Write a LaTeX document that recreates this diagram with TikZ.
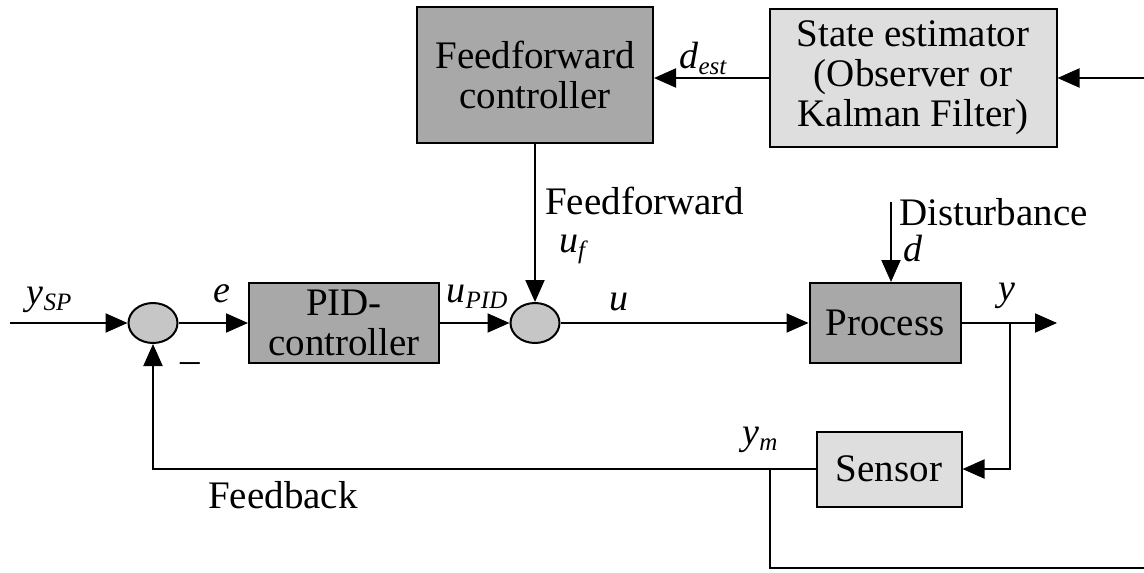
\documentclass[tikz,border=0pt]{standalone}
\usepackage{fontspec}
\setmainfont{Liberation Serif}
\usetikzlibrary{arrows.meta,shapes.geometric,calc}
\definecolor{blkdark}{HTML}{A8A8A8}
\definecolor{blklight}{HTML}{DEDEDE}
\definecolor{sumgray}{HTML}{C6C6C6}
% signal name with a small italic subscript
\newcommand{\sig}[2]{\textit{#1}\raisebox{-0.35ex}{\fontsize{25}{25}\selectfont\textit{#2}}}

\begin{document}
\begin{tikzpicture}[x=1pt, y=-1pt,
    font=\fontsize{39}{40}\selectfont,
    block/.style={rectangle, draw, fill=#1, line width=2pt, align=center, inner sep=0pt},
    junction/.style={ellipse, draw, fill=sumgray, line width=2pt,
                     minimum width=49pt, minimum height=40pt, inner sep=0pt},
    sigarrow/.style={-{Triangle[length=22pt,width=19pt]}, line width=2pt},
    wire/.style={line width=2pt},
    lbl/.style={inner sep=0pt, font=\fontsize{38}{40}\selectfont\itshape},
    txt/.style={inner sep=0pt, anchor=west}
]
\useasboundingbox (0,0) rectangle (1144,573);

% Top row: estimator feeding the feedforward controller
\node[block=blkdark, minimum width=236pt, minimum height=136pt] (ffc) at (535,75) {Feedforward\\controller};
\node[block=blklight, minimum width=287pt, minimum height=138pt] (est) at (913,78) {State estimator\\(Observer or\\Kalman Filter)};
\coordinate (estin) at (1144,78);

% Main loop
\coordinate (ysp) at (10,323);
\node[junction] (sum1) at (153,323) {};
\node[block=blkdark, minimum width=190pt, minimum height=80pt] (pid) at (344,323) {PID-\\controller};
\node[junction] (sum2) at (535,323) {};
\node[block=blkdark, minimum width=151pt, minimum height=80pt] (proc) at (885,323) {Process};
\coordinate (dist) at (891,202);
\coordinate (out) at (1057,323);
\coordinate (tap) at (1010,323);

% Measurement path
\node[block=blklight, minimum width=145pt, minimum height=75pt] (sens) at (889,469) {Sensor};
\coordinate (ymtap) at (770,469);
\coordinate (estfeed) at (1144,568);

% Connectors
\draw[sigarrow] (estin) -- (est);
\draw[sigarrow] (est.west) -- (est.west -| ffc.east);
\draw[sigarrow] (ffc.south -| sum2) -- (sum2);
\draw[sigarrow] (ysp) -- (sum1);
\draw[sigarrow] (sum1) -- (pid);
\draw[sigarrow] (pid) -- (sum2);
\draw[sigarrow] (sum2) -- (proc);
\draw[sigarrow] (dist) -- (dist |- proc.north);
\draw[sigarrow] (proc) -- (out);
\draw[sigarrow] (tap) |- (sens);
\draw[sigarrow] (sens) -| (sum1);
\draw[wire] (ymtap) |- (estfeed);

% Signal labels
\node[lbl] (lysp) at (49,300) {\sig{y}{SP}};
\node[lbl] (le) at (222,294) {e};
\node[lbl] (lupid) at (477,297) {\sig{u}{PID}};
\node[lbl] (lu) at (619,302) {u};
\node[lbl] (ly) at (1007,296) {y};
\node[lbl] (ldest) at (703,58) {\sig{d}{est}};
\node[lbl] (lym) at (760,440) {\sig{y}{m}};
\node[lbl, anchor=west] (luf) at (559,249) {\sig{u}{f}};
\node[lbl, anchor=west] (ld) at (903,249) {d};
\node[txt] (lff) at (545,201) {Feedforward};
\node[txt] (ldist) at (899,212) {Disturbance};
\node[txt] (lfb) at (208,495) {Feedback};
\node[inner sep=0pt] (minus) at (190,362) {\_};

\end{tikzpicture}
\end{document}
